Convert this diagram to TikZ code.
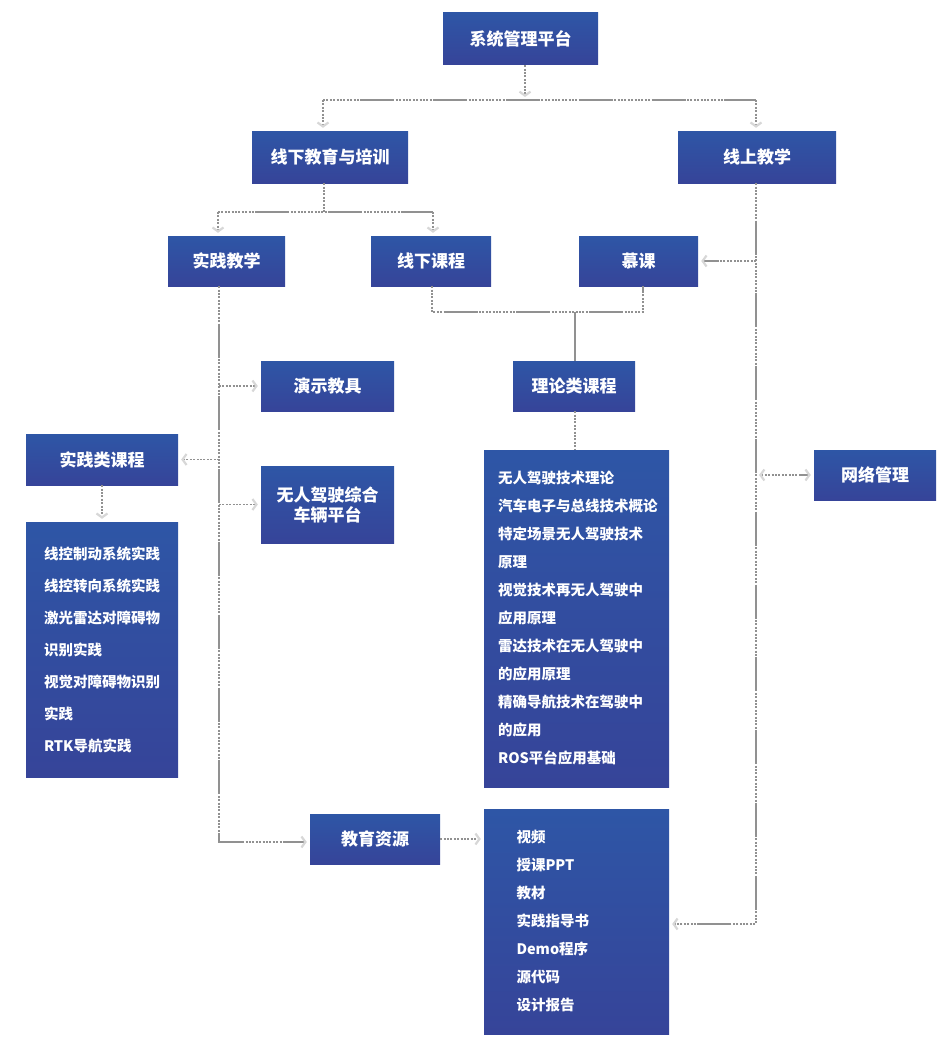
\documentclass[tikz,border=0pt]{standalone}
\usepackage{fontspec}
\setmainfont{Noto Sans CJK SC}
\usetikzlibrary{arrows.meta,calc}
\definecolor{bTop}{RGB}{46,86,166}
\definecolor{bBot}{RGB}{54,68,153}
\definecolor{lineG}{RGB}{145,145,145}
\definecolor{tipG}{RGB}{215,215,215}
\begin{document}
\begin{tikzpicture}[x=1pt,y=-1pt,
  box/.style={rectangle, inner sep=0pt, top color=bTop, bottom color=bBot, draw=none,
    text=white, font=\fontsize{17}{20}\selectfont\bfseries, align=center},
  listtext/.style={anchor=west, inner sep=0pt, text=white, align=left},
  conn/.style={draw=lineG, line width=1.9pt,
    dash pattern=on 2pt off 1.4pt on 2pt off 1.4pt on 2pt off 1.4pt on 2pt off 1.4pt on 2pt off 1.4pt on 2pt off 1.4pt on 2pt off 1.4pt on 2pt off 1.4pt on 2pt off 1.4pt on 2pt off 1.4pt on 2pt off 1.4pt on 34pt off 1.4pt},
  plain/.style={draw=lineG, line width=1.9pt},
  arr/.style={-{Straight Barb[length=4pt,width=11pt,line width=2.2pt,color=tipG]}, shorten >=3pt},
  arrboth/.style={{Straight Barb[length=4pt,width=11pt,line width=2.2pt,color=tipG]}-{Straight Barb[length=4pt,width=11pt,line width=2.2pt,color=tipG]}, shorten >=3pt, shorten <=3pt}
]
\useasboundingbox (0,0) rectangle (951,1041);

% boxes
\node[box, minimum width=155, minimum height=52] (sys) at (520.5,39) {系统管理平台};
\node[box, minimum width=156, minimum height=52] (off) at (330,157) {线下教育与培训};
\node[box, minimum width=158, minimum height=52] (on) at (757,157) {线上教学};
\node[box, minimum width=117, minimum height=50] (prac) at (226.5,261) {实践教学};
\node[box, minimum width=120, minimum height=50] (offc) at (431,261) {线下课程};
\node[box, minimum width=119, minimum height=50] (mooc) at (638.5,261) {慕课};
\node[box, minimum width=122, minimum height=50] (theory) at (574,386) {理论类课程};
\node[box, minimum width=133, minimum height=50] (demo) at (327.5,386) {演示教具};
\node[box, minimum width=133, minimum height=77] (veh) at (327.5,504.5) {无人驾驶综合\\车辆平台};
\node[box, minimum width=152, minimum height=51] (pcourse) at (102,459.5) {实践类课程};
\node[box, minimum width=130, minimum height=50] (edu) at (375,839) {教育资源};
\node[box, minimum width=122, minimum height=50] (net) at (875,475) {网络管理};
\node[box, minimum width=152, minimum height=255] (plist) at (102,649.5) {};
\node[box, minimum width=185, minimum height=337] (tlist) at (576.5,618.5) {};
\node[box, minimum width=185, minimum height=225] (res) at (576.5,921.5) {};

% list texts
\node[listtext, font=\fontsize{14.5}{32}\selectfont\bfseries] (plistT) at ($(plist.west)+(18,0)$)
 {线控制动系统实践\\线控转向系统实践\\激光雷达对障碍物\\识别实践\\视觉对障碍物识别\\实践\\RTK导航实践};
\node[listtext, font=\fontsize{14.5}{28}\selectfont\bfseries] (tlistT) at ($(tlist.west)+(14,0)$)
 {无人驾驶技术理论\\汽车电子与总线技术概论\\特定场景无人驾驶技术\\原理\\视觉技术再无人驾驶中\\应用原理\\雷达技术在无人驾驶中\\的应用原理\\精确导航技术在驾驶中\\的应用\\ROS平台应用基础};
\node[listtext, font=\fontsize{14.5}{28}\selectfont\bfseries] (resT) at ($(res.west)+(32.5,0)$)
 {视频\\授课PPT\\教材\\实践指导书\\Demo程序\\源代码\\设计报告};

% top level connectors
\coordinate (jt) at (525,100);
\coordinate (jl) at (323,100);
\coordinate (jr) at (756,100);
\draw[conn,arr] (sys.south -| jt) -- (jt);
\draw[conn] (jl) -- (jr);
\draw[conn,arr] (jl) -- (jl |- off.north);
\draw[conn,arr] (jr) -- (jr |- on.north);

% offline branch
\coordinate (k0) at (324,212);
\coordinate (kl) at (218,212);
\coordinate (kr) at (433,212);
\draw[conn] (off.south -| k0) -- (k0);
\draw[conn] (kl) -- (kr);
\draw[conn,arr] (kl) -- (kl |- prac.north);
\draw[conn,arr] (kr) -- (kr |- offc.north);

% practical vertical
\coordinate (pv) at (219,842);
\draw[conn,arr] (prac.south -| pv) -- (pv) -- (pv -| edu.west);
\draw[conn,arr] (demo.west -| pv) -- (demo.west);
\draw[conn,arr] (pcourse.east -| pv) -- (pcourse.east);
\draw[conn,arr] (veh.west -| pv) -- (veh.west);
\draw[conn,arr] (pcourse.south) -- (plist.north);

% theory
\coordinate (m) at (575,312);
\coordinate (ma) at (432,312);
\coordinate (mb) at (643,312);
\draw[conn] (offc.south -| ma) -- (ma) -- (mb) -- (mooc.south -| mb);
\draw[plain] (m) -- (theory.north -| m);
\draw[conn] (theory.south -| m) -- (tlist.north -| m);

% online vertical
\coordinate (ov) at (756,924);
\draw[conn,arr] (on.south -| ov) -- (ov) -- (ov -| res.east);
\draw[conn,arr] (mooc.east -| ov) -- (mooc.east);
\draw[conn,arrboth] (net.west -| ov) -- (net.west);

% resources
\draw[conn,arr] (edu.east) -- (edu.east -| res.west);
\end{tikzpicture}
\end{document}
